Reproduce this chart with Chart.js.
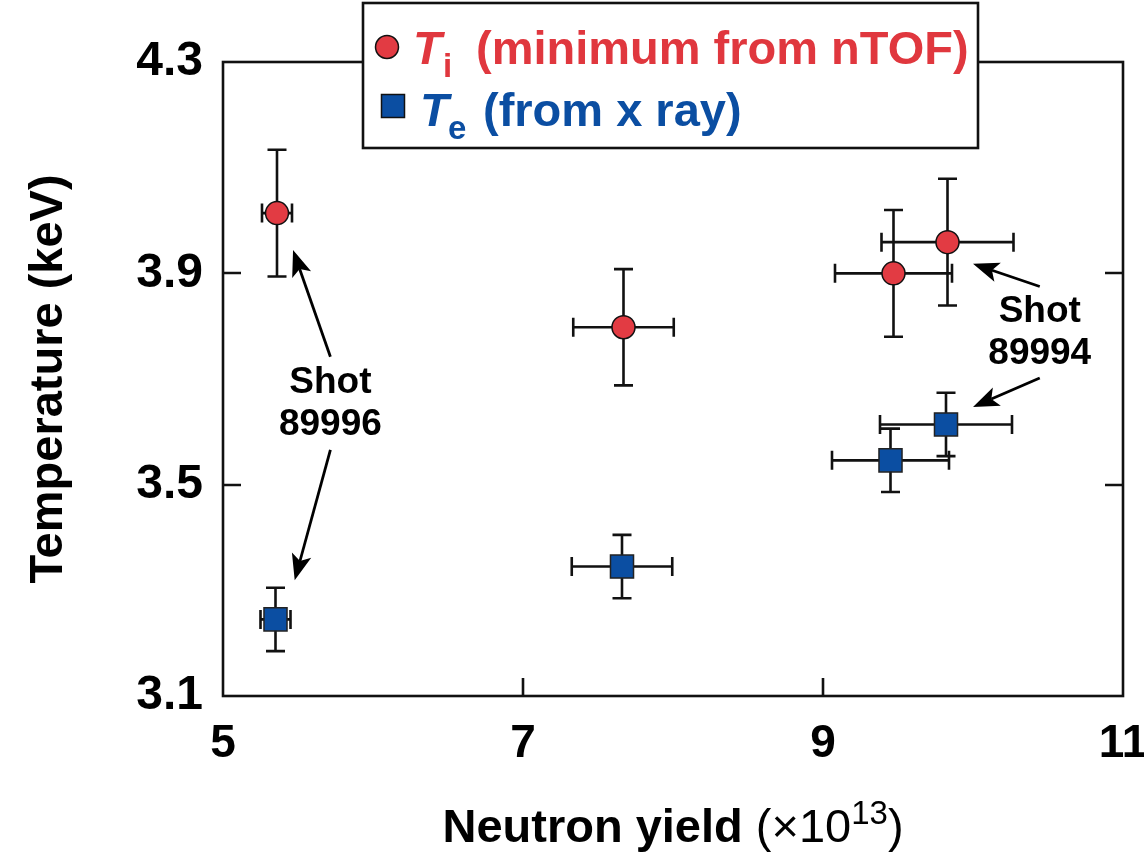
<!DOCTYPE html>
<html>
<head>
<meta charset="utf-8">
<script src="https://cdn.jsdelivr.net/npm/chart.js@4.4.1/dist/chart.umd.min.js"></script>
<style>
  html, body { margin: 0; padding: 0; background: #fff; }
  #wrap { width: 1144px; height: 853px; }
</style>
</head>
<body>
<div id="wrap"><canvas id="chart" width="1144" height="853"></canvas></div>
<script>
// axis ticks
const xTicks = [5, 7, 9, 11];
const yTicks = [3.1, 3.5, 3.9, 4.3];

// Ti (minimum from nTOF)
const tiYield = [5.36, 7.67, 9.47, 9.83];
const tiTemp = [4.014, 3.798, 3.900, 3.959];
const tiYieldErr = [0.10, 0.335, 0.39, 0.44];
const tiTempErr = [0.12, 0.11, 0.12, 0.12];

// Te (from x ray)
const teYield = [5.35, 7.66, 9.45, 9.82];
const teTemp = [3.245, 3.345, 3.546, 3.614];
const teYieldErr = [0.10, 0.335, 0.39, 0.44];
const teTempErr = [0.06, 0.06, 0.06, 0.06];

// shot annotations (data units)
const shotNames = ["89996", "89994"];
const shotLabelX = [5.716, 10.445];
const shotLabelY = [3.658, 3.792];
// arrows: [fromX, fromY, toX, toY]
const shotArrows = [
  [5.716, 3.742, 5.467, 3.944],
  [5.716, 3.566, 5.478, 3.319],
  [10.445, 3.875, 10.0, 3.918],
  [10.445, 3.702, 10.0, 3.647],
];

const RED = "#e23b43";
const BLUE = "#0b4ea2";
const FONT = "'Liberation Sans', Arial, Helvetica, sans-serif";

const toPts = (xs, ys, xe, ye) => xs.map((x, i) => ({ x, y: ys[i], xe: xe[i], ye: ye[i] }));

const errorBars = {
  id: "errorBars",
  beforeDatasetsDraw(chart) {
    const { ctx, scales: { x, y } } = chart;
    const cap = 9.5;
    ctx.save();
    ctx.strokeStyle = "#111";
    ctx.lineWidth = 2.6;
    chart.data.datasets.forEach((ds) => {
      ds.data.forEach((p) => {
        const px = x.getPixelForValue(p.x), py = y.getPixelForValue(p.y);
        const x0 = x.getPixelForValue(p.x - p.xe), x1 = x.getPixelForValue(p.x + p.xe);
        const y0 = y.getPixelForValue(p.y - p.ye), y1 = y.getPixelForValue(p.y + p.ye);
        ctx.beginPath();
        ctx.moveTo(x0, py); ctx.lineTo(x1, py);
        ctx.moveTo(x0, py - cap); ctx.lineTo(x0, py + cap);
        ctx.moveTo(x1, py - cap); ctx.lineTo(x1, py + cap);
        ctx.moveTo(px, y0); ctx.lineTo(px, y1);
        ctx.moveTo(px - cap, y0); ctx.lineTo(px + cap, y0);
        ctx.moveTo(px - cap, y1); ctx.lineTo(px + cap, y1);
        ctx.stroke();
      });
    });
    ctx.restore();
  },
};

const frame = {
  id: "frame",
  beforeDatasetsDraw(chart) {
    const { ctx, chartArea: a, scales: { x, y } } = chart;
    const tl = 18;
    ctx.save();
    ctx.strokeStyle = "#111";
    ctx.lineWidth = 2.6;
    ctx.strokeRect(a.left, a.top, a.right - a.left, a.bottom - a.top);
    ctx.beginPath();
    yTicks.slice(1, -1).forEach((v) => {
      const py = Math.round(y.getPixelForValue(v));
      ctx.moveTo(a.left, py); ctx.lineTo(a.left + tl, py);
      ctx.moveTo(a.right, py); ctx.lineTo(a.right - tl, py);
    });
    xTicks.slice(1, -1).forEach((v) => {
      const px = Math.round(x.getPixelForValue(v));
      ctx.moveTo(px, a.bottom); ctx.lineTo(px, a.bottom - tl);
      ctx.moveTo(px, a.top); ctx.lineTo(px, a.top + tl);
    });
    ctx.stroke();
    ctx.restore();
  },
};

function drawArrow(ctx, x0, y0, x1, y1) {
  const ang = Math.atan2(y1 - y0, x1 - x0);
  const hl = 26, hw = 10;
  const bx = x1 - hl * Math.cos(ang), by = y1 - hl * Math.sin(ang);
  ctx.beginPath();
  ctx.moveTo(x0, y0);
  ctx.lineTo(bx + 6 * Math.cos(ang), by + 6 * Math.sin(ang));
  ctx.stroke();
  const nx = -Math.sin(ang), ny = Math.cos(ang);
  ctx.beginPath();
  ctx.moveTo(x1, y1);
  ctx.lineTo(bx + nx * hw, by + ny * hw);
  ctx.lineTo(bx + 6 * Math.cos(ang), by + 6 * Math.sin(ang));
  ctx.lineTo(bx - nx * hw, by - ny * hw);
  ctx.closePath();
  ctx.fill();
}

const overlay = {
  id: "overlay",
  afterDraw(chart) {
    const { ctx, chartArea: a, scales: { x, y } } = chart;
    ctx.save();
    // arrows
    ctx.strokeStyle = "#000";
    ctx.fillStyle = "#000";
    ctx.lineWidth = 2.8;
    shotArrows.forEach(([fx, fy, tx, ty]) => {
      drawArrow(ctx, x.getPixelForValue(fx), y.getPixelForValue(fy), x.getPixelForValue(tx), y.getPixelForValue(ty));
    });
    // shot labels
    ctx.font = `bold 37px ${FONT}`;
    ctx.textAlign = "center";
    ctx.textBaseline = "alphabetic";
    shotNames.forEach((n, i) => {
      const px = x.getPixelForValue(shotLabelX[i]);
      const py = y.getPixelForValue(shotLabelY[i]);
      ctx.fillText("Shot", px, py - 8);
      ctx.fillText(n, px, py + 34);
    });

    // legend
    ctx.fillStyle = "#fff";
    ctx.fillRect(363, 3, 615, 145);
    ctx.strokeStyle = "#111";
    ctx.lineWidth = 2.6;
    ctx.strokeRect(363, 3, 615, 145);
    ctx.textAlign = "left";
    // row 1
    ctx.beginPath();
    ctx.arc(387, 47, 11.5, 0, Math.PI * 2);
    ctx.fillStyle = RED; ctx.fill();
    ctx.lineWidth = 1.5; ctx.strokeStyle = "#111"; ctx.stroke();
    ctx.fillStyle = "#e0373e";
    ctx.font = `italic bold 47px ${FONT}`;
    ctx.fillText("T", 413, 64);
    ctx.font = `bold 33px ${FONT}`;
    ctx.fillText("i", 443, 77);
    ctx.font = `bold 47px ${FONT}`;
    ctx.fillText("(minimum from nTOF)", 476, 64);
    // row 2
    ctx.fillStyle = BLUE;
    ctx.fillRect(381.5, 94.5, 23, 23);
    ctx.strokeRect(381.5, 94.5, 23, 23);
    ctx.font = `italic bold 47px ${FONT}`;
    ctx.fillText("T", 420, 126);
    ctx.font = `bold 33px ${FONT}`;
    ctx.fillText("e", 448, 139);
    ctx.font = `bold 47px ${FONT}`;
    ctx.fillText("(from x ray)", 483, 126);

    // x title: Neutron yield (×10^13)
    ctx.fillStyle = "#000";
    const cx = (a.left + a.right) / 2;
    const segs = [
      { t: "Neutron yield ", f: `bold 47px ${FONT}`, dy: 0 },
      { t: "(×10", f: `47px ${FONT}`, dy: 0 },
      { t: "13", f: `33px ${FONT}`, dy: -18 },
      { t: ")", f: `47px ${FONT}`, dy: 0 },
    ];
    let total = 0;
    segs.forEach((s) => { ctx.font = s.f; s.w = ctx.measureText(s.t).width; total += s.w; });
    let sx = cx - total / 2;
    segs.forEach((s) => { ctx.font = s.f; ctx.fillText(s.t, sx, 842 + s.dy); sx += s.w; });

    // y title
    ctx.save();
    ctx.translate(62, (a.top + a.bottom) / 2);
    ctx.rotate(-Math.PI / 2);
    ctx.font = `bold 47px ${FONT}`;
    ctx.textAlign = "center";
    ctx.fillText("Temperature (keV)", 0, 0);
    ctx.restore();

    ctx.restore();
  },
};

new Chart(document.getElementById("chart"), {
  type: "scatter",
  data: {
    datasets: [
      {
        label: "Ti (minimum from nTOF)",
        data: toPts(tiYield, tiTemp, tiYieldErr, tiTempErr),
        pointStyle: "circle",
        pointRadius: 11.5,
        pointHoverRadius: 11.5,
        backgroundColor: RED,
        borderColor: "#111",
        borderWidth: 1.5,
      },
      {
        label: "Te (from x ray)",
        data: toPts(teYield, teTemp, teYieldErr, teTempErr),
        pointStyle: "rect",
        pointRadius: 16.3,
        pointHoverRadius: 16.3,
        backgroundColor: BLUE,
        borderColor: "#222",
        borderWidth: 1.5,
      },
    ],
  },
  options: {
    responsive: false,
    devicePixelRatio: 1,
    animation: false,
    events: [],
    layout: { padding: { top: 62, right: 21, left: 0, bottom: 0 } },
    plugins: { legend: { display: false }, tooltip: { enabled: false } },
    scales: {
      x: {
        type: "linear",
        min: 5,
        max: 11,
        afterBuildTicks: (s) => { s.ticks = xTicks.map((v) => ({ value: v })); },
        afterFit: (s) => { s.height = 157; s.paddingLeft = 0; s.paddingRight = 0; },
        grid: { display: false, drawTicks: false },
        border: { display: false },
        ticks: {
          color: "#000",
          padding: 21,
          maxRotation: 0,
          font: { family: FONT, size: 46, weight: "bold" },
          callback: (v) => String(v),
        },
      },
      y: {
        type: "linear",
        min: 3.1,
        max: 4.3,
        afterBuildTicks: (s) => { s.ticks = yTicks.map((v) => ({ value: v })); },
        afterFit: (s) => { s.width = 223; s.paddingTop = 0; s.paddingBottom = 0; },
        grid: { display: false, drawTicks: false },
        border: { display: false },
        ticks: {
          color: "#000",
          padding: 20,
          font: { family: FONT, size: 48, weight: "bold" },
          callback: (v) => Number(v).toFixed(1),
        },
      },
    },
  },
  plugins: [errorBars, frame, overlay],
});
</script>
</body>
</html>
